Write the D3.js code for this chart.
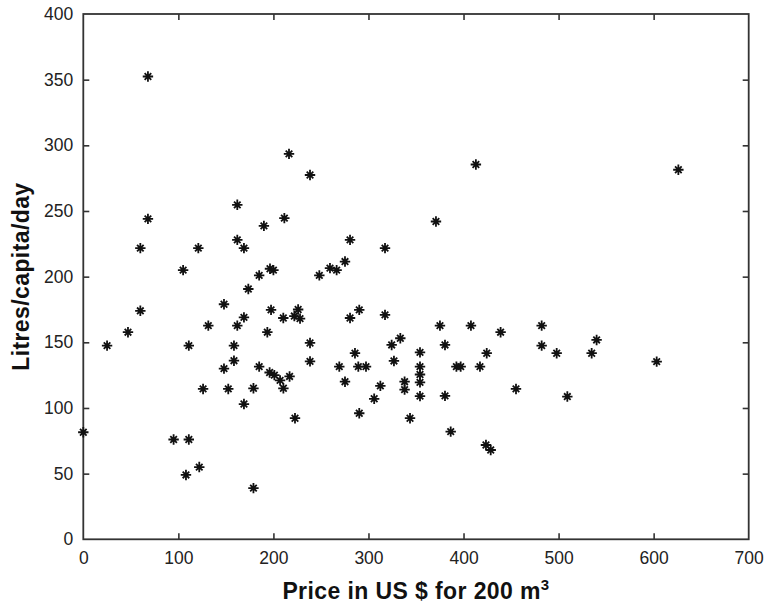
<!DOCTYPE html>
<html>
<head>
<meta charset="utf-8">
<script src="https://cdn.jsdelivr.net/npm/d3@7"></script>
<style>
  html, body { margin: 0; padding: 0; background: #fff; }
  svg { display: block; }
  .tick text { font-family: "Liberation Sans", Arial, sans-serif; font-size: 17.5px; fill: #222; }
  .axis-title { font-family: "Liberation Sans", Arial, sans-serif; font-weight: bold; font-size: 23px; letter-spacing: 0.4px; fill: #111; }
</style>
</head>
<body>
<script>
// Water price versus domestic consumption, one point per city
const price = [
  0, 25, 47, 60, 60, 68, 68, 95, 105, 108,
  111, 111, 121, 122, 126, 131.5, 148, 148, 152.5, 158.5,
  158.5, 162, 162, 162, 169, 169, 169, 173.6, 179, 179,
  185, 185, 190, 193.6, 196.4, 200, 197.5, 196, 201, 207,
  210.5, 211.5, 210.4, 216.4, 217, 222, 226, 228, 222.7, 238.5,
  238.5, 238.5, 248.3, 259.5, 266.5, 269.3, 275.3, 275.3, 280.6, 280.6,
  285.8, 289.3, 290.3, 290.3, 297.4, 306, 312.5, 317.4, 317.4, 324.4,
  326.8, 333.5, 338, 338, 343.7, 354.2, 354.2, 354.2, 354.2, 354.2,
  371, 375.2, 380.5, 380.5, 386.5, 392.5, 397, 407.8, 413, 417.3,
  423.6, 424.4, 428.6, 439, 455.2, 482.2, 482.2, 498, 509.2, 534.8,
  540, 603.2, 626
];
const litres = [
  81.5, 147.5, 157.7, 221.7, 174, 352.4, 244, 76, 205, 49,
  76, 147.5, 221.7, 55, 114.5, 162.7, 179, 130, 114.5, 147.5,
  136, 254.7, 228, 162.7, 221.7, 169, 103, 190.6, 115, 39,
  201, 131.5, 238.7, 157.7, 206, 205, 174.7, 127, 125, 121,
  115, 244.6, 168.5, 293.5, 124, 170, 175, 168, 92.2, 277.4,
  149.5, 135.5, 201, 206.5, 205, 131.5, 211.5, 120, 228, 168.5,
  141.7, 131.5, 174.7, 96, 131.5, 107, 116.8, 221.7, 170.9, 148,
  135.8, 153.1, 120, 114, 92.2, 142.3, 131.5, 125.5, 119.5, 109,
  242, 162.7, 148, 109.2, 82, 131.5, 131.5, 162.7, 285.4, 131.5,
  71.8, 141.7, 68, 157.7, 114.5, 162.7, 147.5, 141.7, 108.7, 141.7,
  151.8, 135.3, 281.4
];
const xTicks = [0, 100, 200, 300, 400, 500, 600, 700];
const yTicks = [0, 50, 100, 150, 200, 250, 300, 350, 400];
const xTitle = "Price in US $ for 200 m";
const xTitleSup = "3";
const yTitle = "Litres/capita/day";

const W = 765, H = 605;
const m = { left: 83.3, top: 14, right: 16.3, bottom: 65.7 };
const iw = W - m.left - m.right, ih = H - m.top - m.bottom;

const svg = d3.select("body").append("svg").attr("width", W).attr("height", H);
const g = svg.append("g").attr("transform", `translate(${m.left},${m.top})`);

const x = d3.scaleLinear().domain([0, 700]).range([0, iw]);
const y = d3.scaleLinear().domain([0, 400]).range([ih, 0]);

const axisColor = "#333";
const tickLen = 6;

function styleAxis(sel) {
  sel.select(".domain").remove();
  sel.selectAll(".tick line").attr("stroke", axisColor).attr("stroke-width", 1.6);
}

// bottom and left axes with labels, ticks pointing inward
g.append("g").attr("transform", `translate(0,${ih})`)
  .call(d3.axisBottom(x).tickValues(xTicks).tickSizeInner(-tickLen).tickSizeOuter(0).tickPadding(12))
  .call(styleAxis)
  .call(s => s.selectAll(".tick").filter(d => d === 0 || d === 700).select("line").remove());
g.append("g")
  .call(d3.axisLeft(y).tickValues(yTicks).tickSizeInner(-tickLen).tickSizeOuter(0).tickPadding(10))
  .call(styleAxis)
  .call(s => s.selectAll(".tick").filter(d => d === 0 || d === 400).select("line").remove());

// mirrored ticks on top and right, no labels
g.append("g")
  .call(d3.axisTop(x).tickValues(xTicks).tickSizeInner(-tickLen).tickSizeOuter(0).tickFormat(""))
  .call(styleAxis)
  .call(s => s.selectAll(".tick").filter(d => d === 0 || d === 700).select("line").remove());
g.append("g").attr("transform", `translate(${iw},0)`)
  .call(d3.axisRight(y).tickValues(yTicks).tickSizeInner(-tickLen).tickSizeOuter(0).tickFormat(""))
  .call(styleAxis)
  .call(s => s.selectAll(".tick").filter(d => d === 0 || d === 400).select("line").remove());

// plot frame
g.append("rect").attr("x", 0).attr("y", 0).attr("width", iw).attr("height", ih)
  .attr("fill", "none").attr("stroke", axisColor).attr("stroke-width", 1.8);

// asterisk markers: a plus with a shorter diagonal cross
function asterisk(r1, r2) {
  return `M${-r1},0H${r1}M0,${-r1}V${r1}` +
         `M${-r2},${-r2}L${r2},${r2}M${-r2},${r2}L${r2},${-r2}`;
}
const pts = price.map((p, i) => ({ p, l: litres[i] }));
g.append("g").selectAll("path").data(pts).join("path")
  .attr("transform", d => `translate(${x(d.p)},${y(d.l)})`)
  .attr("d", asterisk(5.2, 3.3))
  .attr("stroke", "#111").attr("stroke-width", 1.8).attr("fill", "none");

// axis titles
const xt = svg.append("text").attr("class", "axis-title")
  .attr("x", m.left + iw / 2).attr("y", 599).attr("text-anchor", "middle");
xt.append("tspan").text(xTitle);
xt.append("tspan").attr("dy", -9).attr("font-size", "15px").text(xTitleSup);

svg.append("text").attr("class", "axis-title")
  .attr("transform", `translate(29,${m.top + ih / 2}) rotate(-90)`)
  .attr("text-anchor", "middle").text(yTitle);
</script>
</body>
</html>
